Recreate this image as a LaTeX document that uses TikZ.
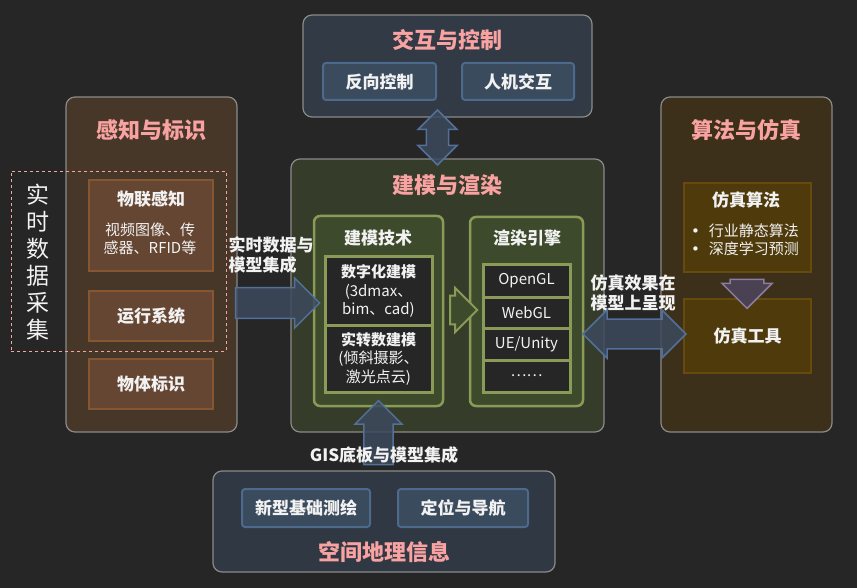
\documentclass[tikz,border=0pt]{standalone}
\usepackage{fontspec}
\setmainfont{Noto Sans CJK SC}
\newfontfamily\symfont{DejaVu Sans}
\usetikzlibrary{shapes.arrows}
\definecolor{bg}{HTML}{262626}
\definecolor{edgegrey}{HTML}{8A8A8A}
\definecolor{titlepink}{HTML}{F9A2A2}
\definecolor{txt}{HTML}{F2F2F2}
\definecolor{bluefill}{HTML}{313A45}
\definecolor{bluesub}{HTML}{3B4B5E}
\definecolor{blueline}{HTML}{4D6A8C}
\definecolor{brownfill}{HTML}{473729}
\definecolor{brownsub}{HTML}{654633}
\definecolor{brownline}{HTML}{85562F}
\definecolor{olivefill}{HTML}{363C2A}
\definecolor{olivesub}{HTML}{3E4A2C}
\definecolor{greenline}{HTML}{8A9B58}
\definecolor{goldfill}{HTML}{3C301A}
\definecolor{goldsub}{HTML}{4E3A0B}
\definecolor{goldline}{HTML}{664A0E}
\definecolor{arrfill}{HTML}{3C4A5C}
\definecolor{arredge}{HTML}{52709A}
\definecolor{purfill}{HTML}{4A4152}
\definecolor{puredge}{HTML}{8C7C9E}
\begin{document}
\begin{tikzpicture}[x=1pt,y=-1pt,
  outer/.style={draw=edgegrey, line width=1.2pt, rounded corners=9pt, inner sep=0pt},
  sub/.style={draw=#1, line width=2pt, inner sep=0pt},
  title/.style={text=titlepink, font=\fontsize{22}{26}\selectfont\bfseries},
  lbl/.style={text=txt, font=\fontsize{17}{20}\selectfont\bfseries, align=center},
  small/.style={text=txt, font=\fontsize{15}{18.5}\selectfont, align=center},
  blk/.style={single arrow, draw=arredge, fill=arrfill, fill opacity=.85, line width=1.5pt, inner xsep=0pt},
  dblk/.style={double arrow, draw=arredge, fill=arrfill, fill opacity=.85, line width=1.5pt, inner xsep=0pt}]
\useasboundingbox[fill=bg] (0,0) rectangle (857,588);
% interaction
\node[outer, fill=bluefill, minimum width=289pt, minimum height=102pt] (top) at (447.5,66) {};
\node[title] (topt) at (447,40) {交互与控制};
\node[sub=blueline, fill=bluesub, rounded corners=3pt, minimum width=113pt, minimum height=37pt, lbl] (ctrl) at (379.5,81.5) {反向控制};
\node[sub=blueline, fill=bluesub, rounded corners=3pt, minimum width=112pt, minimum height=37pt, lbl] (hci) at (518,81.5) {人机交互};
% perception
\node[outer, fill=brownfill, minimum width=171pt, minimum height=335pt] (sense) at (151.5,264.5) {};
\node[title] (senset) at (151,130) {感知与标识};
\node[sub=brownline, fill=brownsub, minimum width=124pt, minimum height=91pt] (iot) at (151,225.5) {};
\node[lbl] (iott) at (151,199) {物联感知};
\node[small] (iotd) at (150,239) {视频图像、传\\感器、RFID等};
\node[sub=brownline, fill=brownsub, minimum width=124pt, minimum height=50pt, lbl] (runsys) at (151,316) {运行系统};
\node[sub=brownline, fill=brownsub, minimum width=124pt, minimum height=50pt, lbl] (ident) at (151,384) {物体标识};
\node[draw=titlepink, dashed, line width=.8pt, minimum width=215pt, minimum height=180pt] (collect) at (118.5,261) {};
\node[text=txt, font=\fontsize{23}{27}\selectfont, align=center] (collectt) at (38,262) {实\\时\\数\\据\\采\\集};
% modelling and rendering
\node[outer, fill=olivefill, minimum width=313pt, minimum height=273pt] (core) at (447.5,295.5) {};
\node[title] (coret) at (447,185) {建模与渲染};
\node[sub=greenline, fill=olivesub, line width=2.5pt, rounded corners=6pt, minimum width=129pt, minimum height=190pt] (model) at (378.5,311) {};
\node[lbl] (modelt) at (378,238) {建模技术};
\node[sub=greenline, fill=bg, line width=3pt, minimum width=107pt, minimum height=68pt, small] (digi) at (378.5,291) {\textbf{数字化建模}\\(3dmax、\\bim、cad)};
\node[sub=greenline, fill=bg, line width=3pt, minimum width=107pt, minimum height=67pt, small] (scan) at (378.5,358.5) {\textbf{实转数建模}\\(倾斜摄影、\\激光点云)};
\node[sub=greenline, fill=olivesub, line width=2.5pt, rounded corners=6pt, minimum width=113pt, minimum height=189pt] (render) at (526.5,311.5) {};
\node[lbl] (rendert) at (527,238) {渲染引擎};
\node[sub=greenline, fill=bg, line width=3pt, minimum width=87pt, minimum height=32pt, small] (ogl) at (526.5,281) {OpenGL};
\node[sub=greenline, fill=bg, line width=3pt, minimum width=87pt, minimum height=31pt, small] (wgl) at (526.5,312.5) {WebGL};
\node[sub=greenline, fill=bg, line width=3pt, minimum width=87pt, minimum height=32pt, small] (ue) at (526.5,344) {UE/Unity};
\node[sub=greenline, fill=bg, line width=3pt, minimum width=87pt, minimum height=32pt, small] (more) at (526.5,376) {……};
\node[single arrow, draw=greenline, fill=olivesub, line width=2pt, inner xsep=0pt, inner ysep=12.5pt, minimum width=44pt, minimum height=27pt] (mrA) at (456.5,310) {};
% algorithms and simulation
\node[outer, fill=goldfill, minimum width=171pt, minimum height=335pt] (algo) at (746.5,264.5) {};
\node[title] (algot) at (746,130) {算法与仿真};
\node[sub=goldline, fill=goldsub, minimum width=127pt, minimum height=89pt] (simalg) at (747.5,227.5) {};
\node[lbl] (simalgt) at (746,200) {仿真算法};
\node[small, align=left] (simalgd) at (745,240) {{\symfont\fontsize{15}{18}\selectfont •}\hspace{9pt}行业静态算法\\{\symfont\fontsize{15}{18}\selectfont •}\hspace{9pt}深度学习预测};
\node[sub=goldline, fill=goldsub, minimum width=127pt, minimum height=74pt, lbl] (simtool) at (747.5,336) {仿真工具};
\node[single arrow, draw=puredge, fill=purfill, line width=1.5pt, inner xsep=0pt, inner ysep=14pt, minimum width=50pt, minimum height=29pt, rotate=-90] (algA) at (747,285.5) {};
% spatial information
\node[blk, inner ysep=11pt, minimum width=47pt, minimum height=64pt, rotate=90] (gisA) at (378.5,440) {};
\node[lbl] (gist) at (384,455) {GIS底板与模型集成};
\node[outer, fill=bluefill, fill opacity=.95, minimum width=342pt, minimum height=101pt] (geo) at (384,521.5) {};
\node[sub=blueline, fill=bluesub, rounded corners=3pt, minimum width=128pt, minimum height=38pt, lbl] (survey) at (306,508) {新型基础测绘};
\node[sub=blueline, fill=bluesub, rounded corners=3pt, minimum width=130pt, minimum height=38pt, lbl] (navi) at (463,508) {定位与导航};
\node[title] (geot) at (384,552) {空间地理信息};
% links between the blocks
\node[blk, inner ysep=10.5pt, minimum width=50pt, minimum height=84pt] (inA) at (270,303) {};
\node[lbl, align=left, anchor=west] (inAt) at (225,255.5) {实时数据与\\模型集成};
\node[dblk, inner ysep=8.5pt, minimum width=39pt, minimum height=55pt, rotate=90] (ioA) at (437.5,137.5) {};
\node[dblk, inner ysep=11pt, minimum width=48pt, minimum height=103pt] (simA) at (634.5,334) {};
\node[lbl] (simAt) at (633,292.5) {仿真效果在\\模型上呈现};
\end{tikzpicture}
\end{document}
